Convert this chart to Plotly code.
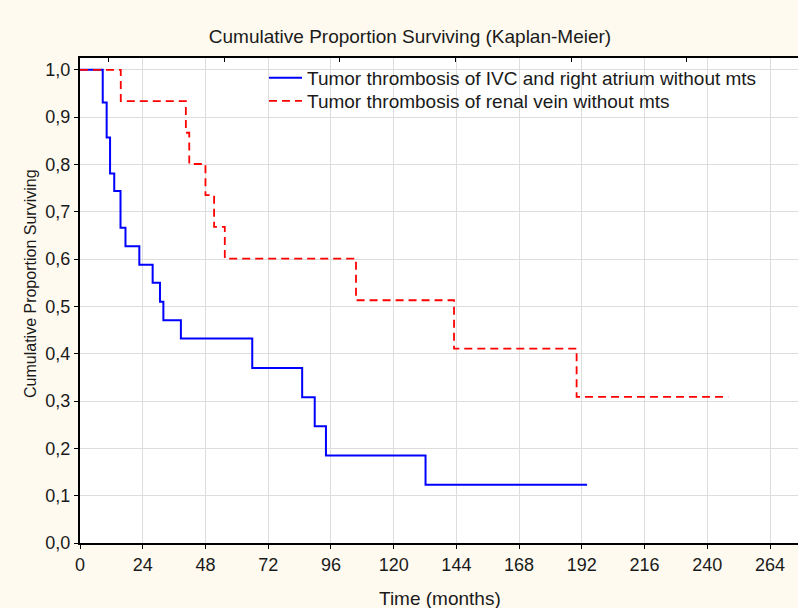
import plotly.graph_objects as go

# Kaplan-Meier step data (months, cumulative proportion surviving)
ivc_time = [0, 8.7, 10.2, 11.5, 13.1, 15.5, 17.4, 22.7, 27.8, 30.6, 31.9, 38.6, 65.9, 85.0, 89.8, 94.1, 132.2, 194.0]
ivc_surv = [1.0, 0.931, 0.857, 0.781, 0.744, 0.666, 0.627, 0.588, 0.550, 0.510, 0.471, 0.432, 0.370, 0.308, 0.247, 0.185, 0.123, 0.123]

renal_time = [0, 15.6, 40.5, 41.8, 48.0, 51.3, 55.4, 105.6, 143.1, 190.0, 248.0]
renal_surv = [1.0, 0.934, 0.867, 0.801, 0.735, 0.668, 0.601, 0.513, 0.411, 0.309, 0.309]

series_names = ["Tumor thrombosis of IVC and right atrium without mts",
                "Tumor thrombosis of renal vein without mts"]

x_ticks = [0, 24, 48, 72, 96, 120, 144, 168, 192, 216, 240, 264]
y_ticks = [0.0, 0.1, 0.2, 0.3, 0.4, 0.5, 0.6, 0.7, 0.8, 0.9, 1.0]
top_ticks = [10.8, 55.1, 99.3, 143.6, 187.9, 232.1]

FONT = "Liberation Sans, Arial, sans-serif"
TXT = "#1a1a1a"

W, H = 798, 608
L, R, T, B = 80, 0, 58, 65
PW, PH = W - L - R, H - T - B

fig = go.Figure()
fig.add_trace(go.Scatter(x=ivc_time, y=ivc_surv, mode="lines", name=series_names[0],
                         legend="legend",
                         line=dict(shape="hv", color="#0000FF", width=2)))
fig.add_trace(go.Scatter(x=renal_time, y=renal_surv, mode="lines", name=series_names[1],
                         legend="legend2",
                         line=dict(shape="hv", color="#FF0000", width=1.8, dash="8px,5px")))
# invisible trace to host top axis
fig.add_trace(go.Scatter(x=[0], y=[0], xaxis="x2", mode="lines", showlegend=False,
                         hoverinfo="skip", line=dict(width=0)))

leg_common = dict(xanchor="left", yanchor="top", bgcolor="rgba(0,0,0,0)",
                  font=dict(size=19, family=FONT, color=TXT), itemwidth=33)

fig.update_layout(
    width=W, height=H,
    margin=dict(l=L, r=R, t=T, b=B),
    paper_bgcolor="#FFFAF0",
    plot_bgcolor="#FFFFFF",
    separators=",.",
    font=dict(family=FONT, size=18, color=TXT),
    title=dict(text="Cumulative Proportion Surviving (Kaplan-Meier)", x=410/W, xanchor="center",
               y=1-36/H, yanchor="middle", font=dict(size=19, family=FONT, color=TXT)),
    xaxis=dict(range=[0, 274.7], tickvals=x_ticks, showgrid=True, gridcolor="#DDDDDD", gridwidth=1.3,
               showline=True, linecolor="black", linewidth=2, ticks="outside", ticklen=4,
               tickcolor="black", zeroline=False, tickfont=dict(size=18), automargin=False),
    xaxis2=dict(range=[0, 274.7], overlaying="x", side="top", tickvals=top_ticks,
                showticklabels=False, ticks="inside", ticklen=4, tickcolor="black",
                showline=True, linecolor="black", linewidth=2, showgrid=False, zeroline=False,
                automargin=False),
    yaxis=dict(range=[0, 1.025], tickvals=y_ticks, tickformat=".1f", showgrid=True,
               gridcolor="#DDDDDD", gridwidth=1.3, showline=True, linecolor="black", linewidth=2,
               ticks="outside", ticklen=4, tickcolor="black", zeroline=False, tickfont=dict(size=18),
               automargin=False),
    legend=dict(x=(264-L)/PW, y=1-(59-T)/PH, **leg_common),
    legend2=dict(x=(264-L)/PW, y=1-(82-T)/PH, **leg_common),
    showlegend=True,
    annotations=[
        dict(text="Time (months)", xref="paper", yref="paper", x=(440-L)/PW, y=-(598-(T+PH))/PH,
             xanchor="center", yanchor="middle", showarrow=False, font=dict(size=19, family=FONT, color=TXT)),
        dict(text="Cumulative Proportion Surviving", xref="paper", yref="paper",
             x=-(L-30)/PW, y=1-(284-T)/PH, xanchor="center", yanchor="middle", textangle=-90,
             showarrow=False, font=dict(size=16, family=FONT, color=TXT)),
    ],
)

fig.write_html("out.html", config={"displayModeBar": False},
               post_script="document.body.style.margin='0';document.body.style.background='#FFFAF0';")
